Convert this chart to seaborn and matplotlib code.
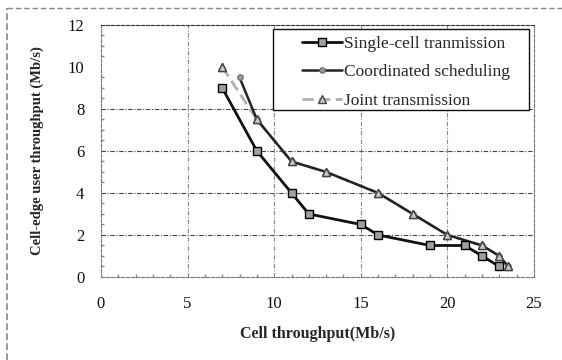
import matplotlib
matplotlib.use("Agg")
import matplotlib.pyplot as plt
from matplotlib.lines import Line2D
from matplotlib.patches import Rectangle
from matplotlib.ticker import MultipleLocator
from matplotlib.font_manager import FontProperties
import seaborn as sns
import pandas as pd

sns.set_theme(style="white")
plt.rcParams['font.family'] = ['Liberation Serif', 'DejaVu Serif']

single_x = [7, 9, 11, 12, 15, 16, 19, 21, 22, 23]
single_y = [9, 6, 4, 3, 2.5, 2, 1.5, 1.5, 1, 0.5]
coord_x = [8, 9, 11, 13, 16, 18, 20, 22, 23, 23.5]
coord_y = [9.5, 7.5, 5.5, 5, 4, 3, 2, 1.5, 1, 0.5]
joint_x = [7, 9, 11, 13, 16, 18, 20, 22, 23, 23.5]
joint_y = [10, 7.5, 5.5, 5, 4, 3, 2, 1.5, 1, 0.5]
labels = ["Single-cell tranmission", "Coordinated scheduling", "Joint transmission"]
x_ticks = [0, 5, 10, 15, 20, 25]
y_ticks = [0, 2, 4, 6, 8, 10, 12]

df = pd.concat([
    pd.DataFrame({"x": single_x, "y": single_y, "s": labels[0]}),
    pd.DataFrame({"x": coord_x, "y": coord_y, "s": labels[1]}),
    pd.DataFrame({"x": joint_x, "y": joint_y, "s": labels[2]}),
])

fig = plt.figure(figsize=(5.62, 3.6), dpi=100)
ax = fig.add_axes([0.1797, 0.2306, 0.7705, 0.70])

for yv in [2, 4, 6, 8]:
    ax.axhline(yv, color="#444444", lw=0.8, ls=(0, (4, 1.5, 1, 1.5)), zorder=0)
for xv in [5, 10, 15, 20]:
    ax.axvline(xv, color="#888888", lw=0.8, ls=(0, (4, 1.5, 1, 1.5)), zorder=0)

d_single = df[df.s == labels[0]]
d_coord = df[df.s == labels[1]]
d_joint = df[df.s == labels[2]]

tri_kw = dict(marker="^", markersize=6, markerfacecolor="#c8c8c8",
              markeredgecolor="#444444", markeredgewidth=1)

sns.lineplot(data=d_joint, x="x", y="y", ax=ax, sort=False, color="#b0b0b0",
             lw=2, linestyle=(0, (4, 2)), label=labels[2], zorder=3, **tri_kw)
sns.lineplot(data=d_coord, x="x", y="y", ax=ax, sort=False, color="#222222",
             lw=1.8, marker="o", markersize=4,
             markerfacecolor="#999999", markeredgecolor="#666666",
             label=labels[1], zorder=4)
sns.lineplot(data=d_joint, x="x", y="y", ax=ax, sort=False, lw=0, legend=False,
             zorder=5, **tri_kw)
sns.lineplot(data=d_single, x="x", y="y", ax=ax, sort=False, color="#111111",
             lw=2, marker="s", markersize=6,
             markerfacecolor="#a0a0a0", markeredgecolor="#000000", markeredgewidth=1,
             label=labels[0], zorder=6)

ax.set_xlim(0, 25)
ax.set_ylim(0, 12)
ax.set_xticks(x_ticks)
ax.set_yticks(y_ticks)
ax.xaxis.set_minor_locator(MultipleLocator(1))
ax.yaxis.set_minor_locator(MultipleLocator(0.5))
ax.tick_params(axis="both", which="major", direction="in", length=0, labelsize=12,
               colors="#111111", pad=14)
ax.tick_params(axis="y", which="major", pad=12)
ax.tick_params(axis="x", which="minor", direction="in", length=2, color="#888888", bottom=True)
ax.tick_params(axis="y", which="minor", direction="in", length=2, color="#888888", left=True)

for side, sp in ax.spines.items():
    sp.set_color("#777777")
    sp.set_linewidth(0.8)
    sp.set_linestyle((0, (3, 1.5)))
ax.spines["top"].set_color("#333333")

ax.set_xlabel("Cell throughput(Mb/s)", fontsize=11.5, fontweight="bold", labelpad=10)
ax.set_ylabel("Cell-edge user throughput (Mb/s)", fontsize=10.5, fontweight="bold", labelpad=17)

ax.add_patch(Rectangle((0.397, 0.663), 0.591, 0.321, transform=ax.transAxes,
                       facecolor="white", edgecolor="#111111", lw=1.0, zorder=9))

handles, labs = ax.get_legend_handles_labels()
order = [labs.index(l) for l in labels]
leg = ax.legend([handles[i] for i in order], [labs[i] for i in order],
                loc="upper left", bbox_to_anchor=(0.464, 0.958),
                prop=FontProperties(family="Liberation Serif", size=12.5),
                frameon=False, handlelength=2.3, borderpad=0, labelspacing=0.72,
                handletextpad=0.1, borderaxespad=0)
leg.set_zorder(10)

fig.add_artist(Line2D([7/562, 7/562], [0, 1 - 8/360], transform=fig.transFigure,
                      color="#888888", lw=1.2, ls=(0, (4, 2))))
fig.add_artist(Line2D([7/562, 1], [1 - 8/360, 1 - 8/360], transform=fig.transFigure,
                      color="#888888", lw=1.0, ls=(0, (4, 2))))

fig.savefig("out.png", dpi=100)
